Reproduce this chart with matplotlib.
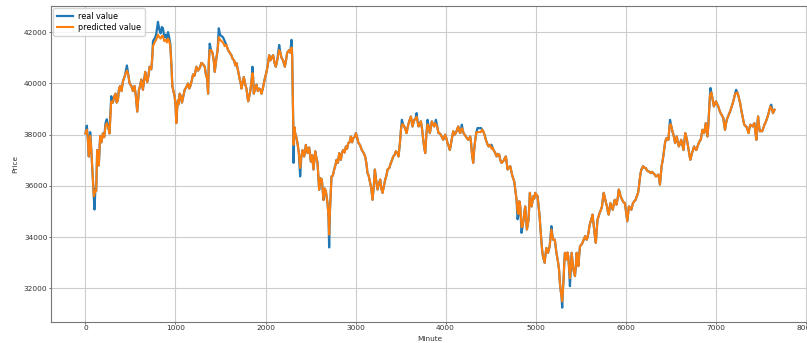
import matplotlib
matplotlib.use("Agg")
import matplotlib.pyplot as plt

# (minute, real price)
real_part1 = [
    (0, 38050), (15, 38350), (25, 37900), (37, 37150), (52, 38100), (63, 37500), (74, 36800),
    (93, 35600), (100, 35080), (110, 35900), (119, 35800), (130, 37400), (140, 37200), (148, 36800),
    (163, 37950), (178, 37700), (193, 38050), (208, 37900), (223, 38450), (237, 38600), (252, 38300),
    (267, 38050), (286, 39500), (304, 39250), (320, 39500), (334, 39600), (347, 39250), (360, 39350),
    (373, 39800), (386, 39900), (400, 39700), (416, 40080), (438, 40300), (460, 40700), (475, 40350),
    (490, 40000), (510, 39900), (527, 39700), (545, 39900), (560, 39500), (575, 38900), (594, 39750),
    (607, 39900), (620, 40150), (638, 39750), (650, 40100), (664, 40450), (675, 40200), (686, 40050),
    (700, 40300), (712, 40650), (731, 40550), (740, 40900), (750, 41650), (768, 41750), (785, 41900),
    (805, 42400), (820, 42100), (835, 41950), (848, 42200), (861, 42150), (875, 41800), (890, 41900),
    (905, 41750), (917, 42000), (930, 41800), (942, 41550), (955, 40700), (965, 39900), (978, 39700),
    (990, 39500), (1000, 39200), (1009, 38450), (1018, 39000), (1028, 39350), (1037, 39200),
    (1046, 39600), (1060, 39500), (1072, 39250), (1087, 39500), (1102, 39750), (1120, 39850),
    (1139, 40000), (1152, 39800), (1165, 39900), (1180, 40100), (1195, 40350), (1212, 40300),
    (1232, 40650), (1250, 40500), (1269, 40600), (1288, 40800), (1305, 40750), (1325, 40650),
    (1340, 40300), (1352, 40200), (1362, 39600), (1370, 40800), (1380, 41550), (1395, 41300),
    (1410, 41200), (1425, 40900), (1436, 40450), (1445, 40700), (1455, 41000), (1468, 41300),
    (1481, 42150), (1495, 41900), (1510, 41850), (1528, 41800), (1547, 41650), (1565, 41500),
    (1584, 41300), (1603, 41200), (1621, 41100), (1636, 40950), (1651, 40900), (1665, 40700),
    (1677, 40800), (1695, 40500), (1714, 40150), (1725, 40000), (1733, 39800), (1745, 40000),
    (1759, 40250), (1772, 40000), (1788, 39800), (1807, 39300), (1820, 39500), (1833, 39750),
    (1845, 40100), (1855, 40650), (1863, 40200), (1870, 39600), (1885, 39800), (1900, 39950),
    (1915, 39700), (1930, 39800), (1945, 39750), (1955, 39600), (1970, 39800), (1993, 40200),
    (2008, 40400), (2022, 40650), (2041, 41100), (2055, 40900), (2067, 41000), (2085, 41100),
    (2100, 40800), (2115, 40650), (2130, 40900), (2152, 41500), (2165, 41200), (2178, 41000),
    (2195, 40900), (2215, 40650), (2228, 40900), (2241, 41200), (2263, 41300), (2275, 41200),
    (2289, 41700), (2296, 41100), (2300, 40200), (2305, 38970), (2308, 38400), (2312, 36900),
]

real_part2 = [
    (2320, 38300), (2330, 38050), (2343, 37900), (2356, 37650), (2370, 37300), (2385, 36370),
    (2397, 37100), (2411, 37400), (2430, 37150), (2448, 37600), (2467, 37280), (2485, 37500),
    (2504, 36950), (2518, 37200), (2533, 36640), (2552, 37350), (2565, 37100), (2578, 36900),
    (2596, 35850), (2610, 36300), (2626, 36250), (2644, 35450), (2657, 35900), (2670, 35800),
    (2689, 35330), (2700, 34800), (2707, 33600), (2715, 34950), (2733, 36370), (2748, 36400),
    (2763, 36640), (2776, 36800), (2789, 37020), (2805, 36900), (2819, 37280), (2837, 37020),
    (2850, 37300), (2863, 37400), (2878, 37300), (2893, 37540), (2906, 37450), (2919, 37670),
    (2934, 37700), (2948, 37930), (2962, 37700), (2974, 37870), (2990, 37900), (3004, 38060),
    (3018, 37900), (3033, 37670), (3050, 37600), (3070, 37400), (3088, 37300), (3107, 37150),
    (3120, 36900), (3133, 36500), (3146, 36400), (3159, 36180), (3175, 35900), (3189, 35460),
    (3203, 36000), (3215, 36640), (3230, 36200), (3244, 35860), (3260, 36100), (3274, 36250),
    (3287, 35900), (3300, 35730), (3315, 36000), (3330, 36250), (3343, 36400), (3356, 36640),
    (3375, 36700), (3393, 36900), (3405, 37000), (3419, 37150), (3433, 37200), (3448, 37350),
    (3463, 37300), (3478, 37150), (3493, 37670), (3505, 38200), (3515, 38580), (3528, 38400),
    (3541, 38320), (3555, 38200), (3567, 38060), (3580, 38300), (3596, 38520), (3615, 38710),
    (3633, 38320), (3652, 38580), (3665, 38600), (3678, 38840), (3690, 38500), (3700, 38320),
    (3713, 38400), (3726, 38520), (3740, 38200), (3752, 37800), (3763, 37500), (3774, 37280),
    (3787, 38000), (3800, 38580), (3813, 38300), (3826, 38060), (3837, 38300), (3848, 38520),
    (3860, 38400), (3874, 38320), (3885, 38450), (3893, 38580), (3908, 38300), (3922, 38060),
    (3935, 38050), (3948, 38000), (3960, 37900), (3974, 37800), (3985, 37900), (3996, 38000),
    (4010, 37850), (4022, 37670), (4035, 37550), (4048, 37400), (4058, 37600), (4067, 37800),
    (4077, 38000), (4085, 38130), (4100, 38000), (4115, 38060), (4128, 38200), (4141, 38320),
    (4152, 38150), (4163, 38060), (4172, 38200), (4181, 38390), (4190, 38200), (4200, 38060),
    (4213, 38000), (4226, 37930), (4240, 37850), (4252, 37800), (4263, 37850), (4274, 37930),
    (4283, 37700), (4293, 37280), (4307, 36900), (4318, 37400), (4330, 37800), (4343, 38100),
    (4356, 38260), (4375, 38250), (4393, 38260), (4406, 38200), (4419, 38130), (4433, 38000),
    (4448, 37800), (4463, 37650), (4478, 37540), (4495, 37600), (4511, 37600), (4522, 37500),
    (4533, 37400), (4550, 37300), (4567, 37150), (4582, 37250), (4596, 37220), (4609, 37000),
    (4622, 36900), (4637, 36950), (4652, 37020), (4660, 37100), (4670, 37150), (4680, 36900),
    (4689, 36640), (4704, 36700), (4719, 36770), (4732, 36550), (4744, 36370), (4763, 36180),
    (4777, 35800), (4789, 35460), (4800, 34700), (4811, 34900), (4820, 35400), (4830, 35200),
    (4844, 34170), (4855, 34400), (4867, 34690), (4877, 35000), (4885, 35200), (4895, 34700),
    (4904, 34300), (4914, 34500), (4922, 34690), (4930, 35200), (4937, 35730), (4947, 35400),
    (4956, 35200), (4966, 35400), (4974, 35600), (4985, 35500), (4996, 35730), (5010, 35650),
    (5022, 35600),
]

real_part3 = [
    (5045, 34820), (5055, 34300), (5064, 33900), (5073, 33500), (5082, 33260), (5101, 33000),
    (5110, 33300), (5120, 33580), (5139, 33390), (5157, 33650), (5176, 34430), (5186, 34100),
    (5195, 33900), (5214, 33900), (5232, 33390), (5251, 33000), (5262, 32700), (5270, 32220),
    (5280, 31900), (5288, 31700), (5296, 31250), (5303, 31900), (5311, 32350), (5318, 32900),
    (5326, 33390), (5335, 33200), (5345, 33130), (5355, 33400), (5363, 33260), (5372, 32800),
    (5382, 32090), (5392, 32800), (5401, 33390), (5410, 33100), (5420, 32740), (5430, 32600),
    (5438, 32480), (5448, 32900), (5457, 33390), (5466, 33100), (5476, 32870), (5485, 33300),
    (5494, 33650), (5508, 33700), (5521, 33780), (5535, 33900), (5551, 34040), (5560, 33950),
    (5569, 33900), (5578, 34000), (5588, 34170), (5597, 34400), (5607, 34560), (5620, 34700),
    (5633, 34880), (5645, 34500), (5655, 34170), (5662, 33950), (5670, 33780), (5680, 34300),
    (5689, 34690), (5700, 34800), (5712, 34950), (5725, 35050), (5738, 35200), (5748, 35500),
    (5757, 35730), (5766, 35600), (5775, 35460), (5785, 35300), (5794, 35200), (5803, 35000),
    (5813, 34880), (5822, 35100), (5832, 35330), (5845, 35200), (5858, 35070), (5870, 35300),
    (5880, 35460), (5890, 35350), (5899, 35270), (5912, 35500), (5925, 35860), (5935, 35750),
    (5944, 35600), (5957, 35500), (5970, 35400), (5982, 35350), (5993, 35330), (6005, 35000),
    (6019, 34620), (6028, 34900), (6037, 35200), (6050, 35150), (6064, 35070), (6073, 35200),
    (6082, 35330), (6097, 35400), (6112, 35460), (6125, 35600), (6139, 35730), (6148, 35950),
    (6157, 36250), (6167, 36500), (6176, 36640), (6185, 36700), (6195, 36770), (6210, 36700),
    (6225, 36700), (6238, 36600), (6251, 36570), (6266, 36550), (6281, 36500), (6294, 36550),
    (6307, 36500), (6322, 36450), (6337, 36370), (6350, 36400), (6363, 36440), (6372, 36300),
    (6382, 36050), (6391, 36400), (6400, 36770), (6410, 36950), (6419, 37150), (6428, 37400),
    (6438, 37670), (6447, 37800), (6457, 37870), (6466, 37800), (6476, 37800), (6485, 38200),
    (6494, 38580), (6503, 38400), (6513, 38260), (6522, 38100), (6532, 38000), (6541, 37850),
    (6550, 37670), (6560, 37800), (6569, 37930), (6580, 37700), (6592, 37540), (6605, 37650),
    (6618, 37800), (6631, 37600), (6644, 37400), (6653, 37700), (6663, 38060), (6672, 37950),
    (6682, 37800), (6691, 37600), (6700, 37400), (6710, 37200), (6719, 37020), (6728, 37150),
    (6738, 37280), (6749, 37400), (6760, 37540), (6773, 37450), (6786, 37400), (6800, 37550),
    (6813, 37670), (6824, 37750), (6835, 37800), (6845, 38000), (6854, 38190), (6863, 38100),
    (6873, 38060), (6882, 38250), (6891, 38450), (6900, 38200), (6910, 37930), (6920, 38400),
    (6929, 38970), (6937, 39500), (6944, 39820), (6953, 39650), (6962, 39500), (6972, 39300),
    (6981, 39100), (6992, 39200), (7004, 39300), (7017, 39200), (7030, 39100), (7043, 38950),
    (7056, 38840), (7071, 38750), (7086, 38650), (7095, 38400), (7105, 38190), (7114, 38400),
    (7124, 38580), (7138, 38700), (7153, 38840), (7166, 38950), (7180, 39100), (7193, 39250),
    (7206, 39430), (7217, 39600), (7228, 39750), (7241, 39650), (7255, 39500), (7264, 39350),
    (7273, 39230), (7286, 38950), (7300, 38710), (7309, 38550), (7318, 38390), (7330, 38350),
    (7341, 38320), (7354, 38200), (7367, 38060), (7376, 38250), (7386, 38390), (7399, 38350),
    (7412, 38320), (7422, 38400), (7431, 38450), (7442, 38100), (7453, 37800), (7462, 38300),
    (7472, 38710), (7481, 38400), (7491, 38130), (7504, 38150), (7517, 38130), (7530, 38250),
    (7543, 38390), (7558, 38500), (7573, 38650), (7586, 38800), (7599, 38970), (7608, 39100),
    (7618, 39170), (7628, 39000), (7637, 38840), (7646, 38900), (7655, 38970),
]

# predicted value where it visibly differs from the real value
predicted_differs = {
    15: 38200, 52: 37950, 100: 35700, 110: 35800, 223: 38350, 237: 38450, 286: 39300,
    460: 40500, 750: 41450, 768: 41600, 785: 41700, 805: 41900, 820: 41800, 835: 41750,
    848: 41850, 861: 41850, 875: 41650, 890: 41700, 905: 41600, 917: 41750, 930: 41650,
    942: 41450, 1380: 41300, 1481: 41800, 1495: 41700, 1510: 41650, 1528: 41600, 1547: 41450,
    1855: 40400, 2152: 41300, 2289: 41400, 2312: 37600, 2385: 36700, 2707: 34100,
    3515: 38400, 3678: 38700, 3800: 38400, 3893: 38400, 4181: 38250, 4356: 38100,
    4375: 38100, 4393: 38100, 4511: 37450, 4800: 35000, 4844: 34400, 5176: 34300,
    5296: 31500, 5382: 32400, 6494: 38400, 6944: 39600, 7228: 39600, 7618: 39000,
}

real_points = real_part1 + real_part2 + real_part3
minutes = [m for m, _ in real_points]
real_value = [v for _, v in real_points]
predicted_value = [predicted_differs.get(m, v) for m, v in real_points]

xticks = [0, 1000, 2000, 3000, 4000, 5000, 6000, 7000, 8000]
yticks = [32000, 34000, 36000, 38000, 40000, 42000]

fig = plt.figure(figsize=(8.07, 3.43), dpi=100)
ax = fig.add_axes([0.0632, 0.0612, 0.9393, 0.9213])

ax.plot(minutes, real_value, color="#1f77b4", lw=1.6, label="real value")
ax.plot(minutes, predicted_value, color="#ff7f0e", lw=1.5, label="predicted value")

ax.set_xlim(-383, 8038)
ax.set_ylim(30690, 43020)
ax.set_xticks(xticks)
ax.set_yticks(yticks)
ax.grid(True, color="#cccccc", lw=0.8)
ax.set_axisbelow(True)

txt = "#333333"
ax.tick_params(labelsize=5.3, length=1.5, width=0.6, colors="#555555", labelcolor=txt, pad=1.0)
for s in ax.spines.values():
    s.set_color("#777777")
    s.set_linewidth(0.8)

ax.set_xlabel("Minute", fontsize=5.3, color=txt)
ax.xaxis.set_label_coords(0.5, -0.043)
ax.xaxis.label.set_va("top")
ax.set_ylabel("Price", fontsize=5.3, color=txt, labelpad=4)

leg = ax.legend(loc="upper left", fontsize=5.8, frameon=True, handlelength=2.0,
                borderpad=0.45, labelspacing=0.3, handletextpad=0.7,
                borderaxespad=0.25, fancybox=True)
leg.get_frame().set_edgecolor("#cccccc")

fig.savefig("out.png", dpi=100)
